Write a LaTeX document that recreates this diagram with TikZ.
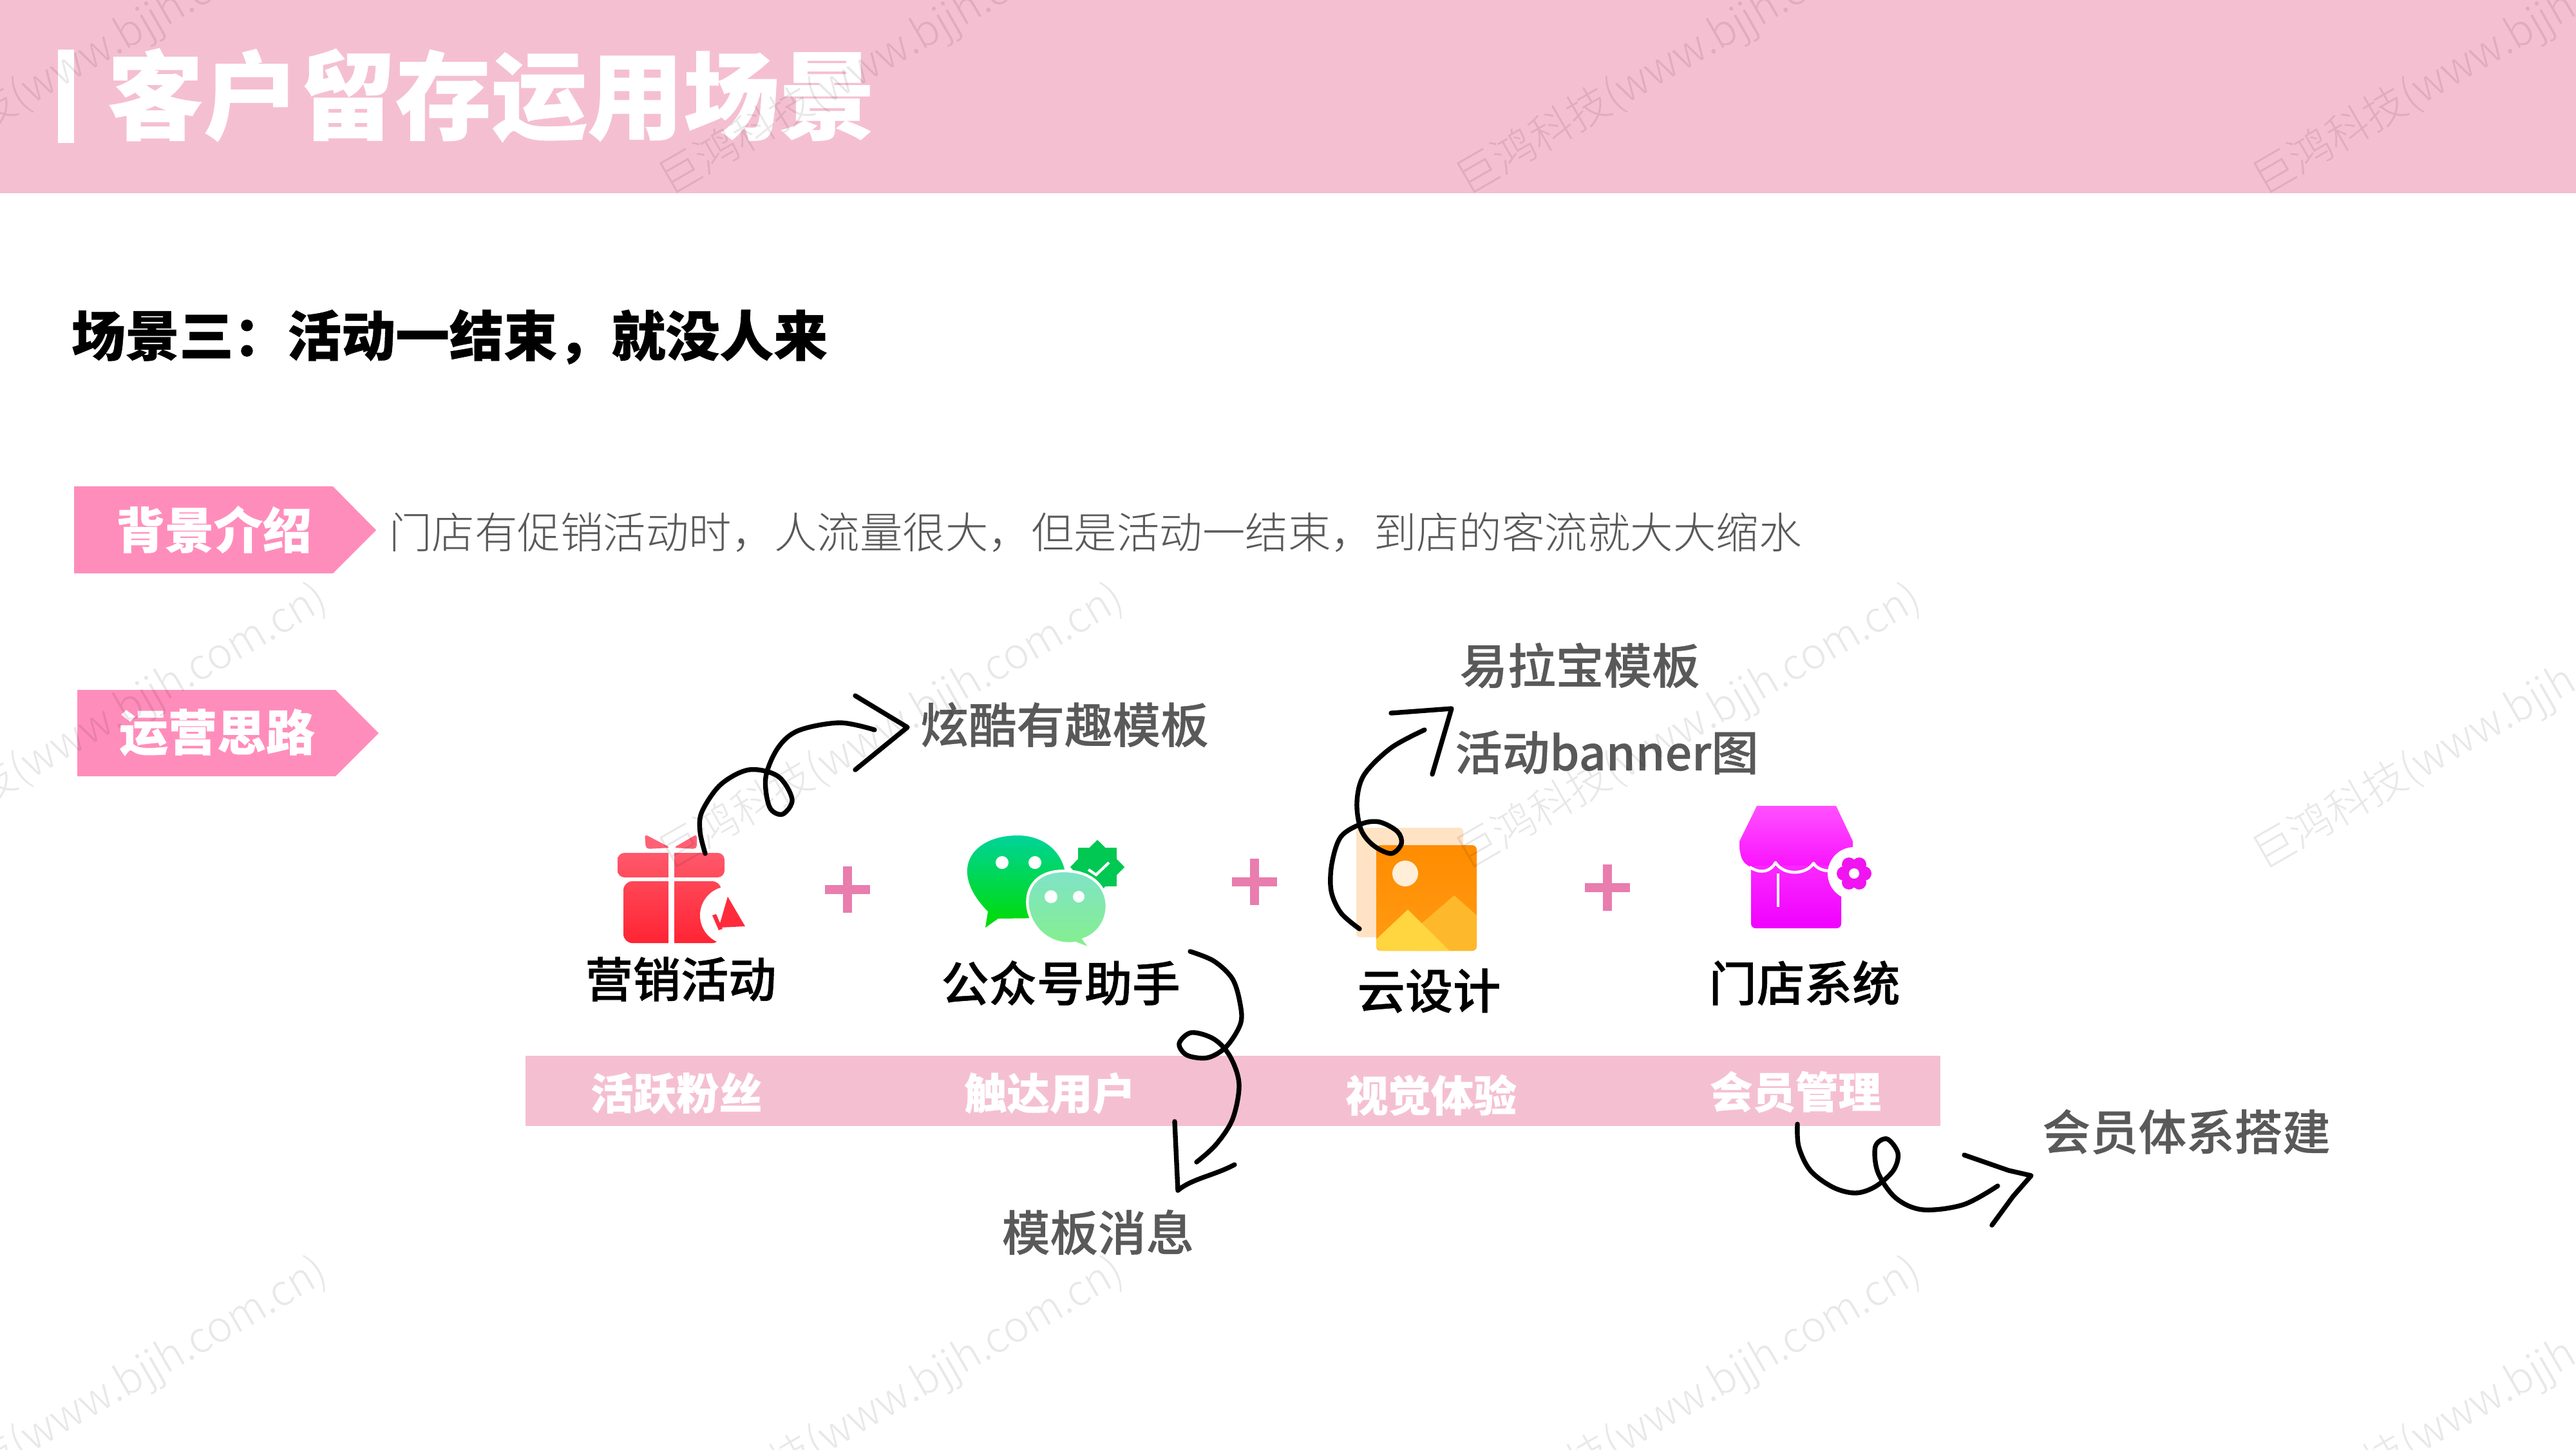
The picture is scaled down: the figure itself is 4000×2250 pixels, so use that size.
\documentclass[tikz,border=0pt]{standalone}
\usepackage{fontspec}
\setmainfont{Noto Sans CJK SC}
\newfontfamily\cjklight{Noto Sans CJK SC Light}
\newfontfamily\cjkheavy[BoldFeatures={FakeBold=0.5}]{Noto Sans CJK SC}
\newfontfamily\cjkmedb[FakeBold=0.7]{Noto Sans CJK SC Medium}
\newfontfamily\cjkgreyb[FakeBold=0.5]{Noto Sans CJK SC Medium}
\usetikzlibrary{shapes.geometric}
\definecolor{headpink}{HTML}{F5BFD2}
\definecolor{tagpink}{HTML}{FF8DBB}
\definecolor{pluspink}{HTML}{E87DAE}
\definecolor{labgrey}{HTML}{595959}
\definecolor{bow}{HTML}{FF6075}
\definecolor{lidt}{HTML}{FF586C}
\definecolor{lidb}{HTML}{FF4C5C}
\definecolor{bodyt}{HTML}{FF4656}
\definecolor{bodyb}{HTML}{FF2434}
\definecolor{mega}{HTML}{FF2B3D}
\definecolor{wga}{HTML}{00D39A}
\definecolor{wgb}{HTML}{00DC00}
\definecolor{wgc}{HTML}{7FE3C8}
\definecolor{wgd}{HTML}{85F08A}
\definecolor{wgbadge}{HTML}{00C853}
\definecolor{imgback}{HTML}{FFE3C4}
\definecolor{imgt}{HTML}{FF8C00}
\definecolor{imgb}{HTML}{FF9B14}
\definecolor{imgsun}{HTML}{FFEFD8}
\definecolor{imgm}{HTML}{FDB92B}
\definecolor{imgl}{HTML}{FFD540}
\definecolor{shopa}{HTML}{FF50FF}
\definecolor{shopb}{HTML}{FA14FF}
\definecolor{shopc}{HTML}{FA28FF}
\definecolor{shopd}{HTML}{F000FF}
\definecolor{flower}{HTML}{F014F0}
\newcommand{\fs}[1]{\fontsize{#1}{#1}\selectfont}
\tikzset{
  txt/.style={inner sep=0pt,outer sep=0pt,anchor=center},
  titletext/.style={txt,text=white,font=\cjkheavy\bfseries\fs{42.4}},
  subtitle/.style={txt,text=black,font=\cjkheavy\bfseries\fs{23.85}},
  tagtext/.style={txt,text=white,font=\cjkheavy\bfseries\fs{21.6}},
  desc/.style={txt,text=labgrey,font=\cjklight\fs{18.9}},
  toollabel/.style={txt,text=black,font=\cjkmedb\fs{21.1}},
  greylabel/.style={txt,text=labgrey,font=\cjkgreyb\fs{21.2}},
  bandlabel/.style={txt,text=white,font=\cjkheavy\bfseries\fs{18.9}},
  watermark/.style={txt,rotate=30,text=black,text opacity=0.09,font=\cjklight\fs{18.8}},
  hand/.style={draw=black,line width=2.1pt,line cap=round,line join=round},
  tagshape/.style={fill=tagpink},
  plusbar/.style={fill=pluspink},
}
\begin{document}
\begin{tikzpicture}[x=0.01cm,y=-0.01cm]
\useasboundingbox (0,0) rectangle (4000,2250);
\clip (0,0) rectangle (4000,2250);
\fill[white] (0,0) rectangle (4000,2250);
% header
\fill[headpink] (0,0) rectangle (4000,300);
\fill[white] (90,77) rectangle (115,222);
\node[titletext] (title) at (763,148) {客户留存运用场景};
\node[subtitle] (sub) at (698,523) {场景三：活动一结束，就没人来};
% tags
\fill[tagshape] (115,755) -- (517,755) -- (584,823) -- (517,890) -- (115,890) -- cycle;
\node[tagtext] (tag1) at (332,822) {背景介绍};
\fill[tagshape] (120,1071) -- (521,1071) -- (588,1138) -- (521,1205) -- (120,1205) -- cycle;
\node[tagtext] (tag2) at (337,1137) {运营思路};
\node[desc] (desctext) at (1701,826) {门店有促销活动时，人流量很大，但是活动一结束，到店的客流就大大缩水};
% band
\fill[headpink] (816,1639) rectangle (3013,1748);
\node[bandlabel] (b1) at (1050,1697) {活跃粉丝};
\node[bandlabel] (b2) at (1630,1697) {触达用户};
\node[bandlabel] (b3) at (2222,1700) {视觉体验};
\node[bandlabel] (b4) at (2788,1695) {会员管理};
% labels
\node[toollabel] (l1) at (1057,1520) {营销活动};
\node[toollabel] (l2) at (1647,1526) {公众号助手};
\node[toollabel] (l3) at (2219,1538) {云设计};
\node[toollabel] (l4) at (2802,1526) {门店系统};
\node[greylabel] (g1) at (1653,1125) {炫酷有趣模板};
\node[greylabel] (g2) at (2453,1033) {易拉宝模板};
\node[greylabel,font=\cjkgreyb\fs{20.9}] (g3) at (2495,1168) {活动banner图};
\node[greylabel] (g4) at (1705,1913) {模板消息};
\node[greylabel] (g5) at (3395,1757) {会员体系搭建};
% pluses
\foreach \cx/\cy in {1316/1381,1948/1369,2496/1378}{
  \fill[plusbar] (\cx-35,\cy-7) rectangle (\cx+35,\cy+7);
  \fill[plusbar] (\cx-7,\cy-36) rectangle (\cx+7,\cy+36);
}
% gift icon
\fill[bow,rounded corners=1.5pt] (1001,1295) -- (1041,1316) -- (1003,1318) -- cycle;
\fill[bow,rounded corners=1.5pt] (1082,1295) -- (1046,1316) -- (1082,1318) -- cycle;
\path[rounded corners=3pt,top color=lidt,bottom color=lidb] (959,1324) rectangle (1125,1362);
\path[rounded corners=4pt,top color=bodyt,bottom color=bodyb] (968,1368) rectangle (1120,1464);
\fill[white] (1038,1316) rectangle (1047,1466);
\fill[white] (1132,1421) circle [radius=45];
\fill[mega] (1130,1392) -- (1157,1438) -- (1116,1440) -- cycle;
\fill[mega] (1106,1421) -- (1112,1419) -- (1122,1442) -- (1116,1444) -- cycle;
% wechat icon
\path[top color=wga,bottom color=wgb]
  (1530,1440) -- (1534,1415) .. controls (1470,1350) and (1510,1297) .. (1580,1297)
  .. controls (1650,1297) and (1680,1370) .. (1630,1425) -- (1550,1426) -- cycle;
\fill[white] (1556,1339) circle [radius=10];
\fill[white] (1607,1339) circle [radius=10];
\node[star,star points=8,star point ratio=1.3,minimum size=24pt,inner sep=0pt,fill=wgbadge] (badge) at (1704,1346) {};
\draw[white,line width=1.2pt] (1690,1350) -- (1702,1358) -- (1722,1339);
\path[draw=white,line width=1.2pt,top color=wgc,bottom color=wgd]
  (1652,1352) .. controls (1735,1352) and (1735,1440) .. (1683,1458) -- (1695,1474) -- (1670,1464)
  .. controls (1590,1475) and (1560,1352) .. (1652,1352) -- cycle;
\fill[white] (1632,1392) circle [radius=10];
\fill[white] (1675,1392) circle [radius=9];
% image icon
\fill[imgback,rounded corners=1.5pt] (2106,1285) rectangle (2272,1455);
\path[rounded corners=2pt,top color=imgt,bottom color=imgb] (2137,1312) rectangle (2293,1476);
\fill[imgsun] (2182,1356) circle [radius=20];
\fill[imgm] (2258,1390) -- (2293,1421) -- (2293,1470) -- (2288,1476) -- (2200,1476) -- (2200,1440) -- cycle;
\fill[imgl] (2186,1412) -- (2251,1476) -- (2143,1476) -- (2137,1470) -- (2137,1458) -- cycle;
% shop icon
\path[top color=shopa,bottom color=shopb]
  (2728,1251) -- (2851,1251) -- (2877,1306) -- (2877,1340) -- (2859,1346) -- (2719,1346)
  .. controls (2705,1340) and (2701,1330) .. (2701,1306) -- cycle;
\path[rounded corners=2pt,top color=shopc,bottom color=shopd] (2719,1344) rectangle (2859,1441);
\draw[white,line width=1.3pt,line join=round]
  (2717,1346) .. controls (2735,1358) and (2750,1352) .. (2757,1339)
  .. controls (2770,1360) and (2805,1358) .. (2816,1340)
  .. controls (2825,1355) and (2850,1355) .. (2870,1345);
\fill[white] (2759,1356) rectangle (2763,1408);
\fill[white] (2879,1356) circle [radius=41];
\foreach \a in {0,60,...,300}{\fill[flower] (2879,1356) ++(\a:16) circle [radius=11];}
\fill[flower] (2879,1356) circle [radius=18];
\fill[white] (2879,1356) circle [radius=8];
% arrows
\coordinate (a1s) at (1095,1325);
\coordinate (a1e) at (1358,1133);
\draw[hand] plot[smooth,tension=0.55] coordinates {(a1s) (1087,1291) (1090,1260) (1119,1218) (1163,1195) (1208,1205) (1230,1241) (1215,1264) (1195,1253) (1189,1207) (1208,1161) (1240,1134) (1304,1122) (a1e)};
\coordinate (h1a) at (1328,1080);
\coordinate (h1b) at (1409,1129);
\coordinate (h1c) at (1328,1195);
\draw[hand] (h1a) -- (h1b) -- (h1c);
\coordinate (a2s) at (1848,1477);
\coordinate (a2e) at (1858,1804);
\draw[hand] plot[smooth,tension=0.55] coordinates {(a2s) (1885,1492) (1914,1520) (1926,1560) (1926,1590) (1904,1625) (1875,1642) (1843,1638) (1831,1620) (1850,1603) (1885,1613) (1910,1640) (1924,1683) (1914,1737) (1888,1777) (a2e)};
\coordinate (h2a) at (1824,1741);
\coordinate (h2b) at (1829,1848);
\coordinate (h2c) at (1917,1808);
\draw[hand] (h2a) -- (h2b) .. controls (1850,1830) and (1885,1825) .. (h2c);
\coordinate (a3s) at (2111,1442);
\coordinate (a3e) at (2212,1133);
\draw[hand] plot[smooth,tension=0.55] coordinates {(a3s) (2082,1417) (2067,1383) (2068,1341) (2082,1299) (2114,1279) (2142,1276) (2170,1291) (2176,1310) (2160,1325) (2132,1312) (2113,1287) (2107,1245) (2118,1203) (2160,1161) (a3e)};
\coordinate (h3a) at (2160,1107);
\coordinate (h3b) at (2254,1100);
\coordinate (h3c) at (2224,1202);
\draw[hand] (h3a) -- (h3b) -- (h3c);
\coordinate (a4s) at (2791,1745);
\coordinate (a4e) at (3102,1841);
\draw[hand] plot[smooth,tension=0.55] coordinates {(a4s) (2793,1780) (2811,1817) (2846,1843) (2881,1852) (2912,1842) (2940,1817) (2947,1790) (2930,1768) (2912,1780) (2916,1820) (2944,1860) (2986,1878) (3049,1870) (a4e)};
\coordinate (h4a) at (3050,1793);
\coordinate (h4b) at (3154,1825);
\coordinate (h4c) at (3093,1902);
\draw[hand] (h4a) -- (3119,1817) -- (h4b) -- (3126,1857) -- (h4c);
% watermarks
\foreach \wx in {148,1385,2623,3860}{
  \foreach \wy in {83,1130,2175}{
    \node[watermark] at (\wx,\wy) {巨鸿科技(www.bjjh.com.cn)};
  }
}
\end{tikzpicture}
\end{document}
